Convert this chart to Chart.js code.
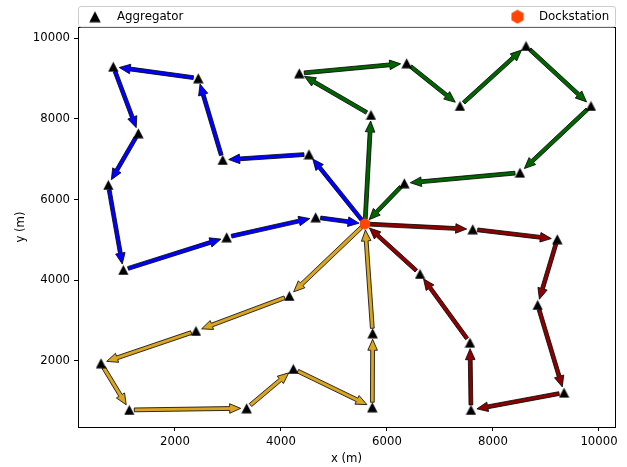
<!DOCTYPE html>
<html><head><meta charset="utf-8">
<script src="https://cdn.jsdelivr.net/npm/chart.js@4"></script>
<style>html,body{margin:0;padding:0;background:#fff}#wrap{width:627px;height:467px}</style>
</head><body><div id="wrap"><canvas id="c" width="627" height="467"></canvas></div>
<script>
// ---- data (metres) ----
const dockX = [5585];
const dockY = [5392];
const blueX = [4528, 2900, 2440, 836, 1308, 742, 1025, 2975, 4654];
const blueY = [7122, 6980, 9007, 9295, 7643, 6360, 4251, 5062, 5558];
const greenX = [5698, 4345, 6371, 7377, 8623, 9849, 8509, 6327];
const greenY = [8097, 9131, 9380, 8320, 9809, 8320, 6665, 6402];
const redX = [7617, 9213, 8843, 9340, 7585, 7566, 6623];
const redY = [5260, 5012, 3382, 1206, 777, 2447, 4151];
const orangeX = [4157, 2396, 604, 1138, 3352, 4233, 5723, 5730];
const orangeY = [3605, 2737, 1935, 777, 819, 1794, 844, 2680];
const xTicks = [2000, 4000, 6000, 8000, 10000];
const yTicks = [2000, 4000, 6000, 8000, 10000];
const legendLabels = ['Aggregator', 'Dockstation'];

const routes = [
  {x: blueX, y: blueY, color: '#0000ff'},
  {x: greenX, y: greenY, color: '#006400'},
  {x: redX, y: redY, color: '#8b0000'},
  {x: orangeX, y: orangeY, color: '#daa520'}
];

const FONT = 'DejaVu Sans';

function triCanvas(s) {
  const c = document.createElement('canvas'); c.width = s; c.height = s;
  const g = c.getContext('2d');
  g.beginPath(); g.moveTo(s / 2, 0.4); g.lineTo(s - 0.3, s - 0.5); g.lineTo(0.3, s - 0.5); g.closePath();
  g.fillStyle = '#000'; g.fill();
  return c;
}
function hexCanvas(r) {
  const w = Math.ceil(r * Math.sqrt(3)) + 1, h = Math.ceil(2 * r) + 1;
  const c = document.createElement('canvas'); c.width = w; c.height = h;
  const g = c.getContext('2d');
  g.beginPath();
  for (let k = 0; k < 6; k++) {
    const a = -Math.PI / 2 + k * Math.PI / 3;
    const px = w / 2 + r * Math.cos(a), py = h / 2 + r * Math.sin(a);
    if (k === 0) g.moveTo(px, py); else g.lineTo(px, py);
  }
  g.closePath(); g.fillStyle = '#ff4500'; g.fill();
  return c;
}
const TRI = triCanvas(11), TRI_LEG = triCanvas(12), HEX = hexCanvas(6), HEX_LEG = hexCanvas(7);

const aggPoints = [];
routes.forEach(r => r.x.forEach((v, i) => aggPoints.push({x: v, y: r.y[i]})));
const dockPoints = dockX.map((v, i) => ({x: v, y: dockY[i]}));

function drawArrow(ctx, x0, y0, x1, y1, color) {
  const dx = x1 - x0, dy = y1 - y0, L = Math.hypot(dx, dy);
  const ux = dx / L, uy = dy / L, nx = -uy, ny = ux;
  const sx = x0 + ux * 5, sy = y0 + uy * 5, tx = x1 - ux * 6, ty = y1 - uy * 6;
  const hl = 11, sw = 1.9, hw = 4.8;
  const bx = tx - ux * hl, by = ty - uy * hl;
  ctx.beginPath();
  ctx.moveTo(sx + nx * sw, sy + ny * sw);
  ctx.lineTo(bx + nx * sw, by + ny * sw);
  ctx.lineTo(bx + nx * hw, by + ny * hw);
  ctx.lineTo(tx, ty);
  ctx.lineTo(bx - nx * hw, by - ny * hw);
  ctx.lineTo(bx - nx * sw, by - ny * sw);
  ctx.lineTo(sx - nx * sw, sy - ny * sw);
  ctx.closePath();
  ctx.fillStyle = color; ctx.fill();
  ctx.lineWidth = 0.8; ctx.strokeStyle = '#000'; ctx.stroke();
}

const arrowPlugin = {
  id: 'arrows',
  beforeDatasetsDraw(chart) {
    const ctx = chart.ctx, xs = chart.scales.x, ys = chart.scales.y, a = chart.chartArea;
    ctx.save();
    ctx.beginPath(); ctx.rect(a.left, a.top, a.right - a.left, a.bottom - a.top); ctx.clip();
    routes.forEach(r => {
      const pts = [[dockX[0], dockY[0]]];
      r.x.forEach((v, i) => pts.push([v, r.y[i]]));
      pts.push([dockX[0], dockY[0]]);
      for (let i = 0; i < pts.length - 1; i++) {
        drawArrow(ctx, xs.getPixelForValue(pts[i][0]), ys.getPixelForValue(pts[i][1]),
          xs.getPixelForValue(pts[i + 1][0]), ys.getPixelForValue(pts[i + 1][1]), r.color);
      }
    });
    ctx.restore();
  },
  afterDraw(chart) {
    const ctx = chart.ctx, a = chart.chartArea;
    ctx.save();
    ctx.strokeStyle = '#000'; ctx.lineWidth = 1;
    ctx.strokeRect(Math.round(a.left) + 0.5, Math.round(a.top) + 0.5, Math.round(a.right - a.left), Math.round(a.bottom - a.top));
    // legend box
    const lx = 78.5, ly = 6.5, lw = 537, lh = 20.5, rr = 2.5;
    ctx.beginPath();
    ctx.moveTo(lx + rr, ly); ctx.lineTo(lx + lw - rr, ly); ctx.quadraticCurveTo(lx + lw, ly, lx + lw, ly + rr);
    ctx.lineTo(lx + lw, ly + lh - rr); ctx.quadraticCurveTo(lx + lw, ly + lh, lx + lw - rr, ly + lh);
    ctx.lineTo(lx + rr, ly + lh); ctx.quadraticCurveTo(lx, ly + lh, lx, ly + lh - rr);
    ctx.lineTo(lx, ly + rr); ctx.quadraticCurveTo(lx, ly, lx + rr, ly); ctx.closePath();
    ctx.fillStyle = '#fff'; ctx.fill();
    ctx.strokeStyle = '#cccccc'; ctx.lineWidth = 1; ctx.stroke();
    ctx.drawImage(TRI_LEG, 95 - 6, 16.7 - 6);
    ctx.drawImage(HEX_LEG, 517.5 - HEX_LEG.width / 2, 16.7 - HEX_LEG.height / 2);
    ctx.fillStyle = '#000'; ctx.font = '11.8px "' + FONT + '"'; ctx.textBaseline = 'middle'; ctx.textAlign = 'left';
    ctx.fillText(legendLabels[0], 117, 16.7);
    ctx.fillText(legendLabels[1], 539, 16.7);
    ctx.restore();
  }
};

const tickFont = {family: FONT, size: 11.7};
new Chart(document.getElementById('c'), {
  type: 'scatter',
  data: {
    datasets: [
      {label: legendLabels[0], data: aggPoints, pointStyle: TRI, pointRadius: 6, showLine: false},
      {label: legendLabels[1], data: dockPoints, pointStyle: HEX, pointRadius: 6, showLine: false}
    ]
  },
  options: {
    responsive: false, animation: false, devicePixelRatio: 1,
    layout: {padding: {top: 27, right: 12, left: 0, bottom: 0}},
    plugins: {legend: {display: false}, tooltip: {enabled: false}},
    scales: {
      x: {
        type: 'linear', min: 170, max: 10302,
        afterBuildTicks: s => { s.ticks = xTicks.map(v => ({value: v})); },
        afterFit: s => { s.height = 40; },
        ticks: {color: '#000', font: tickFont, padding: 4, maxRotation: 0, autoSkip: false, callback: v => String(v)},
        grid: {drawOnChartArea: false, drawTicks: true, tickLength: 4, color: '#000'},
        border: {display: true, color: '#000'},
        title: {display: true, text: 'x (m)', color: '#000', font: tickFont, padding: {top: 0, bottom: 1}}
      },
      y: {
        type: 'linear', min: 354, max: 10280,
        afterBuildTicks: s => { s.ticks = yTicks.map(v => ({value: v})); },
        afterFit: s => { s.width = 78; },
        ticks: {color: '#000', font: tickFont, padding: 4, autoSkip: false, callback: v => String(v)},
        grid: {drawOnChartArea: false, drawTicks: true, tickLength: 4, color: '#000'},
        border: {display: true, color: '#000'},
        title: {display: true, text: 'y (m)', color: '#000', font: tickFont, padding: {top: 14, bottom: 0}}
      }
    }
  },
  plugins: [arrowPlugin]
});
</script></body></html>
